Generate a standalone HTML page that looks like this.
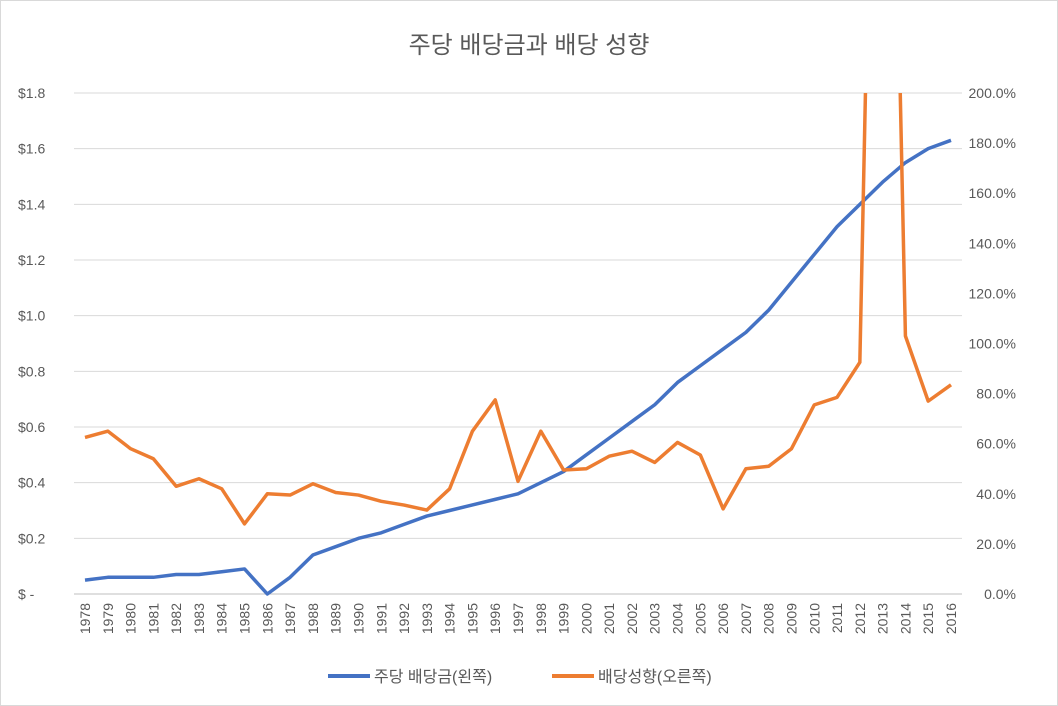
<!DOCTYPE html>
<html><head><meta charset="utf-8"><style>
body{margin:0;background:#fff;}
svg{display:block;font-family:"Liberation Sans","Noto Sans CJK KR",sans-serif;}
</style></head><body>
<svg id="chart" width="1058" height="706" viewBox="0 0 1058 706">
<rect x="0.5" y="0.5" width="1057" height="705" fill="#fff" stroke="#d9d9d9"/>
<text x="529" y="53" text-anchor="middle" font-size="24" fill="#595959">주당 배당금과 배당 성향</text>
<defs><clipPath id="pc"><rect x="60" y="93" width="910" height="510"/></clipPath></defs>
<g id="grid"></g><g id="ticks"></g>
<g clip-path="url(#pc)"><g id="series"></g></g>
<g>
<line x1="328" y1="676" x2="370" y2="676" stroke="#4472c4" stroke-width="4"/>
<text x="374" y="682" font-size="16" fill="#595959">주당 배당금(왼쪽)</text>
<line x1="552" y1="676" x2="594" y2="676" stroke="#ed7d31" stroke-width="4"/>
<text x="598" y="682" font-size="16" fill="#595959">배당성향(오른쪽)</text>
</g>
</svg>
<script>
const years=[1978,1979,1980,1981,1982,1983,1984,1985,1986,1987,1988,1989,1990,1991,1992,1993,1994,1995,1996,1997,1998,1999,2000,2001,2002,2003,2004,2005,2006,2007,2008,2009,2010,2011,2012,2013,2014,2015,2016];
const dividend=[0.05,0.06,0.06,0.06,0.07,0.07,0.08,0.09,0.0,0.06,0.14,0.17,0.20,0.22,0.25,0.28,0.30,0.32,0.34,0.36,0.40,0.44,0.50,0.56,0.62,0.68,0.76,0.82,0.88,0.94,1.02,1.12,1.22,1.32,1.40,1.48,1.55,1.60,1.63];
const payout=[62.5,65,58,54,43,46,42,28,40,39.5,44,40.5,39.5,37,35.5,33.5,42,65,77.5,45,65,49.5,50,55,57,52.5,60.5,55.5,34,50,51,58,75.5,78.5,92.5,530,103,77,83.5];
const leftTicks=["$ -","$0.2","$0.4","$0.6","$0.8","$1.0","$1.2","$1.4","$1.6","$1.8"];
const rightTicks=["0.0%","20.0%","40.0%","60.0%","80.0%","100.0%","120.0%","140.0%","160.0%","180.0%","200.0%"];
const NS="http://www.w3.org/2000/svg";
const x0=85,x1=951,yTop=93,yBot=594;
const xs=i=>x0+(x1-x0)*i/(years.length-1);
const yL=v=>yBot-(yBot-yTop)*v/1.8;
const yR=v=>yBot-(yBot-yTop)*v/200;
function mk(t,a,p){const e=document.createElementNS(NS,t);for(const k in a)e.setAttribute(k,a[k]);p.appendChild(e);return e;}
const grid=document.getElementById('grid'),ticks=document.getElementById('ticks'),ser=document.getElementById('series');
leftTicks.forEach((t,i)=>{const y=yL(i*0.2);
 const l=mk('line',{x1:74,x2:962,y1:y,y2:y,stroke:i==0?'#bfbfbf':'#d9d9d9','stroke-width':1},grid);
 
 
 const tx=mk('text',{x:18,y:y+5,'font-size':14,fill:'#595959'},ticks);tx.textContent=t;
 
 });
rightTicks.forEach((t,i)=>{const y=yR(i*20);
 const tx=mk('text',{x:1016,y:y+5,'font-size':14,fill:'#595959','text-anchor':'end'},ticks);tx.textContent=t;
 
 });
years.forEach((yr,i)=>{const x=xs(i);
 const tx=mk('text',{x:0,y:0,'font-size':14,fill:'#595959','text-anchor':'end',transform:`translate(${x+5},${603}) rotate(-90)`},ticks);tx.textContent=yr;
 
 });
const p1=mk('polyline',{points:dividend.map((v,i)=>xs(i)+','+yL(v)).join(' '),fill:'none',stroke:'#4472c4','stroke-width':3.5,'stroke-linejoin':'round'},ser);


const p2=mk('polyline',{points:payout.map((v,i)=>xs(i)+','+yR(v)).join(' '),fill:'none',stroke:'#ed7d31','stroke-width':3.5,'stroke-linejoin':'round'},ser);


</script>
</body></html>
